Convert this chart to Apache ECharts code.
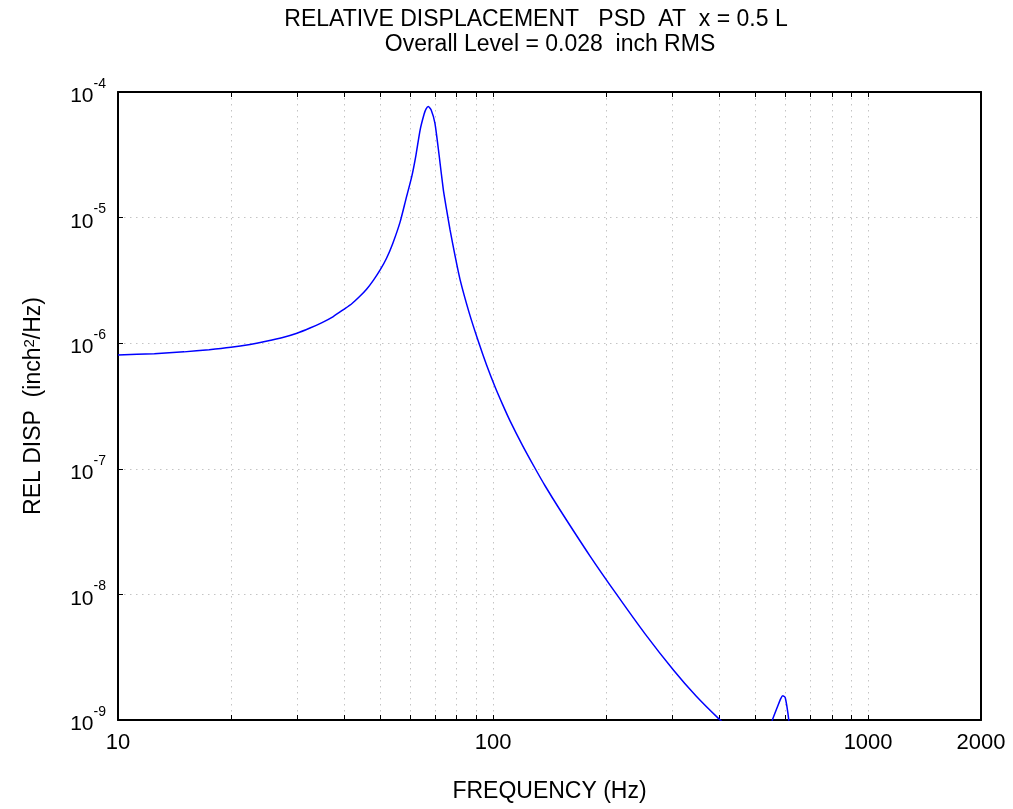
<!DOCTYPE html>
<html>
<head>
<meta charset="utf-8">
<script src="https://cdn.jsdelivr.net/npm/echarts@6/dist/echarts.min.js"></script>
<style>
html,body{margin:0;padding:0;background:#fff;}
#chart{width:1013px;height:809px;}
</style>
</head>
<body>
<div id="chart"></div>
<script>
// Frequency (Hz)
const freqs = [10, 12.5, 15, 17.5, 20, 22.5, 25, 27.5, 30, 32.5, 35, 37.5, 40, 42, 44, 46, 48, 50, 52, 54, 56.5, 58.6, 60.7, 62.3, 63.9, 65.5, 66.3, 67.2, 68.4, 70, 71.8, 73.7, 75.2, 76.8, 79.2, 81.7, 86.3, 91.4, 96.1, 101.2, 106, 111, 119.5, 129.4, 137.6, 150.9, 181.4, 213.8, 254.3, 302.6, 347.8, 398.9, 455.7, 500, 530, 555.7, 571.8, 585, 592.4, 600.7, 607, 614.5, 625, 660, 750, 1000, 2000];
// Relative displacement PSD (inch^2/Hz)
const psd = [8.05e-7, 8.26e-7, 8.53e-7, 8.87e-7, 9.27e-7, 9.78e-7, 1.04e-6, 1.11e-6, 1.20e-6, 1.32e-6, 1.46e-6, 1.63e-6, 1.86e-6, 2.06e-6, 2.34e-6, 2.69e-6, 3.18e-6, 3.83e-6, 4.75e-6, 6.2e-6, 9.2e-6, 1.41e-5, 2.12e-5, 3.15e-5, 4.98e-5, 6.68e-5, 7.35e-5, 7.65e-5, 7.19e-5, 5.63e-5, 3.15e-5, 1.66e-5, 1.15e-5, 7.97e-6, 4.95e-6, 3.19e-6, 1.76e-6, 1.03e-6, 6.7e-7, 4.5e-7, 3.26e-7, 2.41e-7, 1.56e-7, 1.01e-7, 7.33e-8, 4.70e-8, 2.02e-8, 9.95e-9, 4.85e-9, 2.50e-9, 1.55e-9, 1.03e-9, 7.2e-10, 5.0e-10, 6.0e-10, 1.0e-9, 1.25e-9, 1.48e-9, 1.56e-9, 1.52e-9, 1.3e-9, 1.0e-9, 6e-10, 3e-10, 1.5e-10, 8e-11, 2e-11];
// Axis ticks
const xLabelValues = [10, 100, 1000, 2000];
const xTickValues = [20, 30, 40, 50, 60, 70, 80, 90, 100, 200, 300, 400, 500, 600, 700, 800, 900, 1000];
const yMin = 1e-9, yMax = 1e-4;
const titleLine1 = 'RELATIVE DISPLACEMENT   PSD  AT  x = 0.5 L';
const titleLine2 = 'Overall Level = 0.028  inch RMS';

const FONT = '"Liberation Sans", Arial, Helvetica, sans-serif';
const chart = echarts.init(document.getElementById('chart'), null, {renderer: 'canvas'});
const lineData = freqs.map((f, i) => [f, psd[i]]);
const gridLine = {show: true, lineStyle: {color: '#c4c4c4', width: 1, type: [1.5, 4.5]}};

chart.setOption({
  animation: false,
  backgroundColor: '#ffffff',
  textStyle: {fontFamily: FONT},
  title: [
    {text: titleLine1, left: 536, top: 8, padding: 0, textAlign: 'center', textStyle: {fontFamily: FONT, fontSize: 23, fontWeight: 'normal', color: '#000'}},
    {text: titleLine2, left: 550, top: 33, padding: 0, textAlign: 'center', textStyle: {fontFamily: FONT, fontSize: 23, fontWeight: 'normal', color: '#000'}}
  ],
  grid: {left: 118, right: 32, top: 92, bottom: 89, containLabel: false},
  xAxis: [
    {
      type: 'log', logBase: 10, min: 10, max: 2000, position: 'bottom',
      name: 'FREQUENCY (Hz)', nameLocation: 'middle', nameGap: 60,
      nameTextStyle: {fontFamily: FONT, fontSize: 23, color: '#000'},
      axisLine: {show: true, onZero: false, lineStyle: {color: '#000', width: 2}},
      axisTick: {show: true, inside: true, length: 5, customValues: xTickValues, lineStyle: {color: '#000', width: 1}},
      axisLabel: {show: true, customValues: xLabelValues, margin: 12, fontFamily: FONT, fontSize: 22, color: '#000', formatter: v => String(Math.round(v))},
      splitLine: gridLine,
      minorTick: {show: false}, minorSplitLine: {show: false}
    },
    {
      type: 'log', logBase: 10, min: 10, max: 2000, position: 'top',
      axisLine: {show: true, onZero: false, lineStyle: {color: '#000', width: 2}},
      axisTick: {show: true, inside: true, length: 5, customValues: xTickValues, lineStyle: {color: '#000', width: 1}},
      axisLabel: {show: false},
      splitLine: {show: false}
    }
  ],
  yAxis: [
    {
      type: 'log', logBase: 10, min: yMin, max: yMax, position: 'left',
      name: 'REL DISP  (inch{sup|2}/Hz)', nameLocation: 'middle', nameGap: 73, nameRotate: 90,
      nameTextStyle: {fontFamily: FONT, fontSize: 23, color: '#000', rich: {sup: {fontFamily: FONT, fontSize: 15, color: '#000', verticalAlign: 'top', lineHeight: 12}}},
      axisLine: {show: true, onZero: false, lineStyle: {color: '#000', width: 2}},
      axisTick: {show: true, inside: true, length: 5, lineStyle: {color: '#000', width: 1}},
      axisLabel: {
        show: true, margin: 12, fontFamily: FONT,
        formatter: v => '{b|10}{s|' + Math.round(Math.log10(v)) + '}',
        rich: {
          b: {fontFamily: FONT, fontSize: 21, color: '#000', lineHeight: 30, verticalAlign: 'bottom', padding: [8, 0, 0, 0]},
          s: {fontFamily: FONT, fontSize: 14, color: '#000', lineHeight: 16, verticalAlign: 'top'}
        }
      },
      splitLine: gridLine,
      minorTick: {show: false}, minorSplitLine: {show: false}
    },
    {
      type: 'log', logBase: 10, min: yMin, max: yMax, position: 'right',
      axisLine: {show: true, onZero: false, lineStyle: {color: '#000', width: 2}},
      axisTick: {show: false}, axisLabel: {show: false}, splitLine: {show: false}
    }
  ],
  series: [
    {
      type: 'line', xAxisIndex: 0, yAxisIndex: 0, data: lineData,
      showSymbol: false, symbol: 'none', smooth: 0.2, clip: true,
      lineStyle: {color: '#0000ff', width: 1.5},
      z: 5
    }
  ]
});
</script>
</body>
</html>
